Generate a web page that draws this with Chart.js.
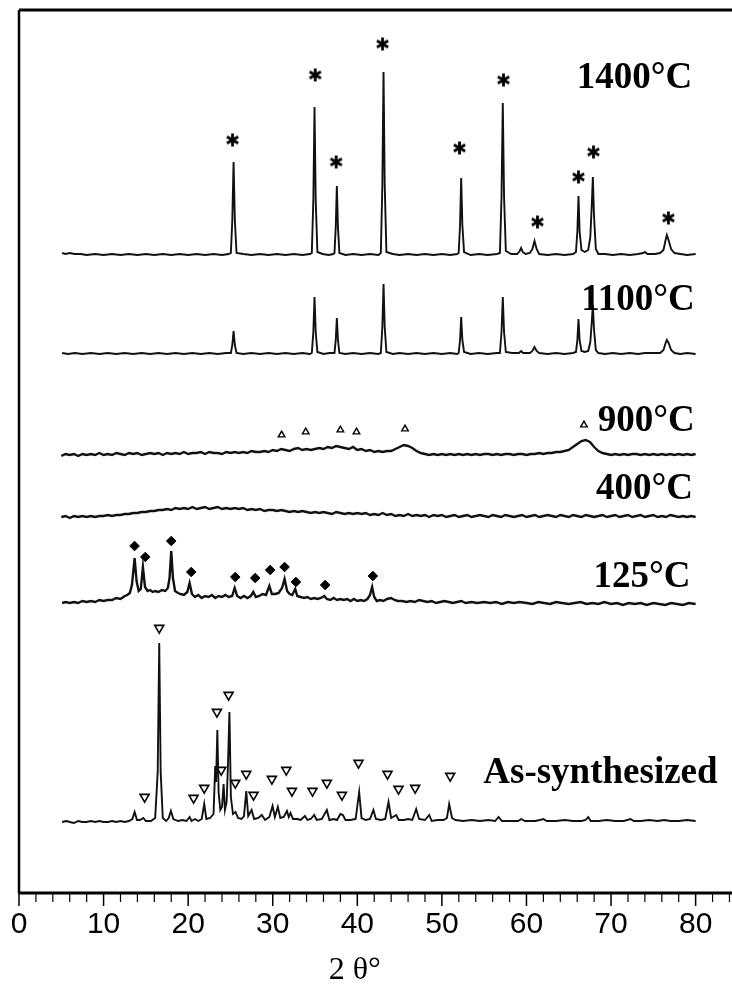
<!DOCTYPE html>
<html>
<head>
<meta charset="utf-8">
<script src="https://cdn.jsdelivr.net/npm/chart.js@4.4.1/dist/chart.umd.min.js"></script>
<style>
  html, body { margin: 0; padding: 0; background: #fff; overflow: hidden; }
  #wrap { width: 732px; height: 985px; }
</style>
</head>
<body>
<div id="wrap"><canvas id="xrdChart" width="732" height="985"></canvas></div>
<script>
// Diffraction patterns: [2theta, counts above the pattern's own baseline]
const pattern1400 = [
  [5.1,2],[5.5,1],[6.0,2],[6.6,1],[7.3,1],[8,0],[9,1],[10,0],[11,1],[12,0],[13,1],[14,0],[15,1],[16,0],[17,1],[18,0],[19,1],[20,0],[21,1],[22,0],[23,1],[24,0],[24.8,1],
  [25.05,2],[25.22,35],[25.37,93],[25.52,35],[25.72,2],
  [26.5,1],[27.5,0],[28.5,1],[29.5,0],[30.5,1],[31.5,0],[32.5,1],[33.5,0],[34.4,1],
  [34.62,2],[34.8,55],[34.94,148],[35.08,55],[35.28,3],
  [35.9,1],[36.6,0],[37.15,1],
  [37.3,2],[37.45,28],[37.58,69],[37.71,28],[37.88,2],
  [38.6,0],[39.5,1],[40.5,0],[41.5,1],[42.5,0],
  [42.78,2],[42.96,70],[43.1,183],[43.24,70],[43.44,3],
  [44.2,1],[45,0],[46,1],[47,0],[48,1],[49,0],[50,1],[51,0],[51.8,1],
  [51.98,2],[52.15,30],[52.28,77],[52.42,30],[52.62,3],
  [53.4,0],[54.4,1],[55.4,0],[56.5,1],
  [56.86,2],[57.05,58],[57.2,152],[57.35,58],[57.56,4],
  [58.2,1],[58.9,1],[59.2,4],[59.37,7],[59.55,3],[59.9,1],[60.4,2],
  [60.7,6],[60.95,14],[61.2,6],[61.5,1],
  [62.5,0],[63.5,1],[64.5,0],[65.5,1],
  [65.85,3],[66.02,24],[66.15,59],[66.28,24],[66.5,5],[66.9,3],[67.3,5],
  [67.55,18],[67.72,50],[67.85,78],[67.98,40],[68.2,6],[68.5,1],
  [69.3,1],[70.2,0],[71.2,1],[72.2,0],[73.2,1],[73.8,2],[74.0,3],[74.3,1],[75.2,1],[75.8,2],
  [76.2,5],[76.45,15],[76.6,20],[76.8,15],[77.1,6],[77.5,2],
  [78.2,1],[79,0],[80,1]
];

const pattern1100 = [
  [5.1,1],[5.8,0],[6.6,1],[7.5,0],[8.5,1],[9.5,0],[10.5,1],[11.5,0],[12.5,1],[13.5,0],[14.5,1],[15.5,0],[16.5,1],[17.5,0],[18.5,1],[19.5,0],[20.5,1],[21.5,0],[22.5,1],[23.5,0],[24.5,1],
  [25.05,1],[25.22,9],[25.37,23],[25.52,9],[25.72,1],
  [26.5,0],[27.5,1],[28.5,0],[29.5,1],[30.5,0],[31.5,1],[32.5,0],[33.5,1],[34.4,0],
  [34.62,1],[34.8,22],[34.94,57],[35.08,22],[35.28,2],
  [36,0],[36.7,1],
  [37.3,1],[37.45,14],[37.58,36],[37.71,14],[37.88,1],
  [38.6,0],[39.5,1],[40.5,0],[41.5,1],[42.5,0],
  [42.78,1],[42.96,27],[43.1,70],[43.24,27],[43.44,2],
  [44.2,0],[45,1],[46,0],[47,1],[48,0],[49,1],[50,0],[51,1],[51.8,0],
  [51.98,1],[52.15,14],[52.28,37],[52.42,14],[52.62,2],
  [53.4,0],[54.4,1],[55.4,0],[56.5,1],
  [56.86,1],[57.05,22],[57.2,57],[57.35,22],[57.56,2],
  [58.3,1],[59.1,1],[59.37,3],[59.6,1],[60.4,1],
  [60.7,3],[60.95,7],[61.2,3],[61.5,1],
  [62.5,0],[63.5,1],[64.5,0],[65.5,1],
  [65.85,2],[66.02,14],[66.15,35],[66.28,14],[66.5,3],[66.9,2],[67.3,3],
  [67.55,12],[67.72,32],[67.85,49],[67.98,25],[68.2,4],[68.5,1],
  [69.3,0],[70.2,1],[71.2,0],[72.2,1],[73.2,0],[74,1],[75.2,1],[75.8,1],
  [76.2,4],[76.45,11],[76.6,14],[76.8,11],[77.1,4],[77.5,1],
  [78.2,0],[79,1],[80,0]
];

const pattern900 = [
  [5,-1],[5.5,1],[6,0],[6.5,1],[7,-1],[7.5,1],[8,0],[8.5,1],[9,0],[9.5,2],[10,0],[10.5,1],[11,0],[11.5,2],[12,1],[12.5,0],[13,2],[13.5,1],[14,2],[14.5,0],
  [15,1],[15.5,2],[16,1],[16.5,2],[17,0],[17.5,2],[18,1],[18.5,2],[19,1],[19.5,3],[20,1],[20.5,2],[21,2],[21.5,3],[22,1],[22.5,3],[23,2],[23.5,2],[24,1],[24.5,3],
  [25,2],[25.5,3],[26,2],[26.5,3],[27,2],[27.5,4],[28,3],[28.5,3],[29,4],[29.5,3],[30,5],[30.5,4],[31,6],[31.5,5],[32,4],[32.5,6],[33,7],[33.5,5],[34,6],[34.5,5],
  [35,6],[35.5,7],[36,6],[36.5,8],[37,7],[37.5,9],[38,8],[38.5,7],[39,6],[39.5,8],[40,5],[40.5,6],[41,4],[41.5,5],[42,3],[42.5,4],[43,3],[43.5,4],[44,4],[44.5,6],
  [45,8],[45.5,10],[46,9],[46.5,7],[47,4],[47.5,2],[48,1],[48.5,0],[49,1],[49.5,0],[50,1],[50.5,0],[51,1],[51.5,0],[52,1],[52.5,0],[53,1],[53.5,0],[54,1],[54.5,0],
  [55,1],[55.5,1],[56,0],[56.5,1],[57,0],[57.5,1],[58,1],[58.5,0],[59,1],[59.5,1],[60,0],[60.5,1],[61,1],[61.5,2],[62,1],[62.5,2],[63,2],[63.5,3],[64,3],[64.5,4],
  [65,5],[65.5,8],[66,11],[66.5,14],[67,15],[67.5,13],[68,8],[68.5,4],[69,2],[69.5,1],[70,0],[70.5,1],[71,0],[71.5,1],[72,0],[72.5,1],[73,1],[73.5,0],[74,1],[74.5,0],
  [75,1],[75.5,0],[76,1],[76.5,0],[77,1],[77.5,0],[78,1],[78.5,0],[79,1],[79.5,0],[80,1]
];

const pattern400 = [
  [5,0],[5.5,1],[6,-1],[6.5,1],[7,0],[7.5,1],[8,0],[8.5,1],[9,0],[9.5,1],[10,1],[10.5,2],[11,1],[11.5,2],[12,2],[12.5,3],[13,3],[13.5,4],[14,4],[14.5,5],
  [15,5],[15.5,6],[16,6],[16.5,7],[17,7],[17.5,8],[18,7],[18.5,9],[19,8],[19.5,9],[20,8],[20.5,10],[21,8],[21.5,9],[22,10],[22.5,8],[23,9],[23.5,10],[24,8],[24.5,9],
  [25,8],[25.5,9],[26,8],[26.5,9],[27,7],[27.5,8],[28,7],[28.5,8],[29,6],[29.5,7],[30,7],[30.5,6],[31,7],[31.5,6],[32,5],[32.5,6],[33,5],[33.5,6],[34,5],[34.5,4],
  [35,5],[35.5,4],[36,5],[36.5,4],[37,3],[37.5,5],[38,4],[38.5,3],[39,4],[39.5,3],[40,4],[40.5,3],[41,4],[41.5,2],[42,3],[42.5,2],[43,4],[43.5,2],[44,3],[44.5,1],
  [45,2],[45.5,1],[46,3],[46.5,1],[47,2],[47.5,1],[48,2],[48.5,0],[49,2],[49.5,1],[50,2],[50.5,0],[51,1],[51.5,2],[52,0],[52.5,1],[53,2],[53.5,0],[54,1],[54.5,2],
  [55,1],[55.5,0],[56,2],[56.5,1],[57,0],[57.5,2],[58,1],[58.5,0],[59,1],[59.5,2],[60,0],[60.5,1],[61,2],[61.5,0],[62,1],[62.5,2],[63,1],[63.5,0],[64,2],[64.5,1],
  [65,0],[65.5,2],[66,1],[66.5,0],[67,2],[67.5,1],[68,0],[68.5,1],[69,2],[69.5,0],[70,1],[70.5,2],[71,0],[71.5,1],[72,2],[72.5,0],[73,1],[73.5,2],[74,0],[74.5,1],
  [75,2],[75.5,0],[76,1],[76.5,0],[77,2],[77.5,1],[78,0],[78.5,1],[79,0],[79.5,1],[80,0]
];

const pattern125 = [
  [5.1,0],[5.5,1],[6,0],[6.5,1],[7,0],[7.5,2],[8,1],[8.5,2],[9,1],[9.5,3],[10,2],[10.5,3],[11,3],[11.5,5],[12,4],[12.5,7],[12.8,8],[13.1,10],[13.35,18],
  [13.67,45],[13.9,22],[14.15,12],[14.4,14],[14.65,36],[14.9,16],[15.2,12],[15.5,13],[15.8,11],[16.1,12],[16.5,11],[16.9,13],[17.3,12],[17.6,15],[17.8,25],
  [18,52],[18.2,25],[18.45,12],[18.8,10],[19.1,9],[19.5,8],[19.9,11],[20.17,20],[20.45,9],[20.8,6],[21.2,8],[21.6,5],[22,7],[22.4,6],[22.8,8],[23.2,5],[23.6,7],
  [24,6],[24.4,8],[24.8,6],[25.2,7],[25.5,15],[25.8,7],[26.2,5],[26.6,7],[27,5],[27.4,7],[27.7,11],[28,6],[28.4,7],[28.8,9],[29.2,8],[29.6,17],[29.9,9],[30.3,9],
  [30.7,10],[31.1,15],[31.4,24],[31.7,12],[32,9],[32.3,8],[32.66,14],[32.9,7],[33.3,6],[33.7,5],[34.1,6],[34.5,4],[34.9,5],[35.3,4],[35.7,5],[36.1,7],[36.4,4],
  [36.8,3],[37.2,5],[37.6,3],[38,4],[38.4,3],[38.8,4],[39.2,2],[39.6,4],[40,2],[40.4,3],[40.8,2],[41.2,4],[41.5,8],[41.75,16],[42,6],[42.3,2],[42.7,3],[43.1,2],
  [43.5,4],[44,5],[44.4,3],[44.8,2],[45.3,2],[45.8,1],[46.3,2],[46.8,1],[47.3,3],[47.8,2],[48.3,1],[48.8,2],[49.3,0],[49.8,1],[50.3,2],[50.8,1],[51.3,0],[51.8,1],
  [52.3,2],[52.8,0],[53.5,1],[54.2,0],[55,1],[55.7,0],[56.4,1],[57.1,-1],[57.8,1],[58.5,0],[59.2,1],[60,0],[60.7,-1],[61.4,1],[62.1,0],[62.8,-1],[63.5,1],[64.2,0],
  [65,-1],[65.7,0],[66.4,1],[67.1,-1],[67.8,0],[68.5,-1],[69.2,1],[70,-1],[70.7,0],[71.4,-2],[72.1,0],[72.8,-1],[73.5,0],[74.2,-2],[75,0],[75.7,-1],[76.4,-2],
  [77.1,0],[77.8,-1],[78.5,-2],[79.2,0],[80,-1]
];

const patternAsSynth = [
  [5.1,0],[5.6,1],[6,0],[6.5,-1],[7,1],[7.5,0],[8,0],[8.5,1],[9,0],[9.5,1],[10,0],[10.5,0],[11,1],[11.5,0],[12,1],[12.5,0],[13,1],[13.4,3],[13.67,10],[13.95,2],
  [14.3,2],[14.7,4],[15,1],[15.6,1],[16.1,4],[16.4,50],[16.58,179],[16.75,50],[17,4],[17.4,1],[17.7,4],[17.96,11],[18.25,3],[18.8,1],[19.3,2],[19.8,1],
  [20.17,5],[20.4,1],[20.8,3],[21.2,1],[21.6,3],[21.9,18],[22.15,3],[22.6,4],[23,8],[23.2,56],[23.3,40],[23.45,92],[23.6,30],[23.8,12],[24,15],[24.19,38],
  [24.35,12],[24.55,20],[24.7,55],[24.88,110],[25.05,25],[25.3,8],[25.6,10],[25.9,4],[26.3,3],[26.6,6],[26.87,31],[27.1,6],[27.5,12],[27.8,3],[28.3,4],[28.7,7],
  [29.1,2],[29.6,5],[29.98,16],[30.25,5],[30.6,15],[30.9,4],[31.3,5],[31.68,11],[31.9,5],[32.1,9],[32.4,3],[32.9,3],[33.3,2],[33.8,6],[34.1,2],[34.5,3],[34.9,7],
  [35.2,2],[35.8,3],[36.4,12],[36.7,2],[37.2,3],[37.6,2],[38,8],[38.3,7],[38.6,2],[39.2,2],[39.8,3],[40.22,30],[40.5,4],[41,2],[41.5,3],[41.9,12],[42.2,3],
  [42.8,2],[43.3,3],[43.69,20],[44,4],[44.6,7],[44.9,2],[45.5,2],[46,3],[46.5,2],[46.96,13],[47.3,3],[48,2],[48.5,7],[48.8,1],[49.5,2],[50.2,2],[50.6,4],
  [50.86,18],[51.2,4],[51.6,2],[52.5,1],[53.5,2],[54.5,1],[55.5,2],[56.3,1],[56.7,5],[57.1,1],[58,1],[59,1],[59.4,3],[59.8,1],[61,1],[61.6,2],[62,3],[62.4,1],
  [63.5,1],[64.5,2],[65.5,1],[66.5,1],[67,2],[67.3,5],[67.6,1],[68.5,1],[69.5,2],[70.5,1],[71.5,1],[72.3,3],[72.7,1],[73.5,1],[74.5,2],[75.5,1],[76.3,2],
  [77,1],[78,1],[79,2],[80,1]
];

// vertical stacking offset of each pattern, top to bottom
const baselineOffsets = [638, 539, 438, 376, 290, 71];
const sampleNames = ['1400°C', '1100°C', '900°C', '400°C', '125°C', 'As-synthesized'];

// phase markers: [2theta, height on the stacked scale]
const corundumMarks = [
  [25.25,753],[35.02,818],[37.5,731],[42.98,849],[52.08,745],[57.28,813],[61.3,671],[66.15,716],[67.92,741],[76.78,675]
];
const transitionMarks = [
  [31.05,458],[33.9,461],[38.0,463],[39.9,461],[45.64,464],[66.8,468]
];
const dehydratedMarks = [
  [13.66,347],[14.93,336],[18.0,352],[20.37,321],[25.57,316],[27.93,315],[29.7,323],[31.4,326],[32.74,311],[36.2,308],[41.84,317]
];
const precursorMarks = [
  [14.85,96],[16.58,265],[20.64,95],[21.9,105],[23.4,181],[23.91,123],[24.78,198],[25.57,110],[26.87,119],[27.73,98],[29.9,114],
  [31.6,123],[32.27,102],[34.7,102],[36.4,110],[38.18,98],[40.14,130],[43.57,119],[44.87,104],[46.84,105],[50.98,117]
];

const majorTicks = [0, 10, 20, 30, 40, 50, 60, 70, 80];
const minorTicks = [2, 4, 6, 8, 12, 14, 16, 18, 22, 24, 26, 28, 32, 34, 36, 38, 42, 44, 46, 48, 52, 54, 56, 58, 62, 64, 66, 68, 72, 74, 76, 78, 82, 84];

const patterns = [pattern1400, pattern1100, pattern900, pattern400, pattern125, patternAsSynth];

// six-armed asterisk used as a point style
function asteriskGlyph(size) {
  const c = document.createElement('canvas');
  c.width = c.height = size;
  const g = c.getContext('2d');
  g.strokeStyle = '#000';
  g.lineWidth = 2.8;
  g.translate(size / 2, size / 2);
  const r = size / 2 - 1;
  for (let k = 0; k < 3; k++) {
    g.beginPath();
    g.moveTo(0, -r);
    g.lineTo(0, r);
    g.stroke();
    g.rotate(Math.PI / 3);
  }
  return c;
}

const toPoints = arr => arr.map(([a, v]) => ({ x: a, y: v }));

const traceSets = patterns.map((p, i) => ({
  type: 'line',
  data: p.map(([a, v]) => ({ x: a, y: baselineOffsets[i] + v })),
  borderColor: '#111',
  borderWidth: i >= 2 && i <= 4 ? 2.4 : 1.9,
  pointRadius: 0,
  tension: 0,
  fill: false
}));

const markerSets = [
  { data: toPoints(corundumMarks), pointStyle: asteriskGlyph(15), pointRadius: 7 },
  { data: toPoints(transitionMarks), pointStyle: 'triangle', pointRadius: 3.8, borderColor: '#000', backgroundColor: '#fff', borderWidth: 1.4 },
  { data: toPoints(dehydratedMarks), pointStyle: 'rectRot', pointRadius: 4.8, borderColor: '#000', backgroundColor: '#000', borderWidth: 1 },
  { data: toPoints(precursorMarks), pointStyle: 'triangle', rotation: 180, pointRadius: 5.2, borderColor: '#000', backgroundColor: '#fff', borderWidth: 1.6 }
].map(s => Object.assign({ type: 'scatter', showLine: false }, s));

// frame, ticks, axis title and pattern names
const annotate = {
  id: 'annotate',
  afterDatasetsDraw(chart, args, opts) {
    const { ctx, chartArea: a, scales: { x, y } } = chart;
    ctx.save();
    ctx.strokeStyle = '#000';
    ctx.fillStyle = '#000';

    ctx.lineWidth = 3;
    ctx.beginPath();
    ctx.moveTo(a.left, a.top);
    ctx.lineTo(a.right, a.top);
    ctx.stroke();
    ctx.beginPath();
    ctx.moveTo(a.left - 0.5, a.bottom);
    ctx.lineTo(a.right, a.bottom);
    ctx.stroke();
    ctx.lineWidth = 2.5;
    ctx.beginPath();
    ctx.moveTo(a.left, a.top);
    ctx.lineTo(a.left, a.bottom);
    ctx.stroke();

    ctx.lineWidth = 1.5;
    majorTicks.forEach(v => {
      const px = x.getPixelForValue(v);
      ctx.beginPath();
      ctx.moveTo(px, a.bottom);
      ctx.lineTo(px, a.bottom + 13);
      ctx.stroke();
    });
    ctx.lineWidth = 1.2;
    minorTicks.forEach(v => {
      const px = x.getPixelForValue(v);
      ctx.beginPath();
      ctx.moveTo(px, a.bottom);
      ctx.lineTo(px, a.bottom + 9);
      ctx.stroke();
    });

    ctx.font = '30px "Liberation Sans"';
    ctx.textAlign = 'center';
    ctx.textBaseline = 'middle';
    majorTicks.forEach(v => ctx.fillText(String(v), x.getPixelForValue(v), a.bottom + 32));

    ctx.font = '32px "Liberation Serif"';
    ctx.fillText('2 θ°', x.getPixelForValue(opts.titleAt), a.bottom + 78);

    ctx.font = 'bold 37px "Liberation Serif"';
    ctx.textAlign = 'right';
    sampleNames.forEach((name, i) => {
      const [ax, ay] = opts.nameAnchors[i];
      ctx.fillText(name, x.getPixelForValue(ax), y.getPixelForValue(ay));
    });
    ctx.restore();
  }
};

new Chart(document.getElementById('xrdChart'), {
  data: { datasets: [...traceSets, ...markerSets] },
  options: {
    responsive: false,
    devicePixelRatio: 1,
    animation: false,
    events: [],
    layout: { autoPadding: false, padding: { left: 19, top: 10, right: 0, bottom: 92 } },
    scales: {
      x: { type: 'linear', min: 0, max: 84.3, display: false },
      y: { type: 'linear', min: 0, max: 883, display: false }
    },
    plugins: {
      legend: { display: false },
      tooltip: { enabled: false },
      annotate: {
        titleAt: 39.7,
        nameAnchors: [[79.6, 815], [79.9, 593], [79.9, 472], [79.7, 404], [79.4, 316], [82.6, 120]]
      }
    }
  },
  plugins: [annotate]
});
</script>
</body>
</html>
